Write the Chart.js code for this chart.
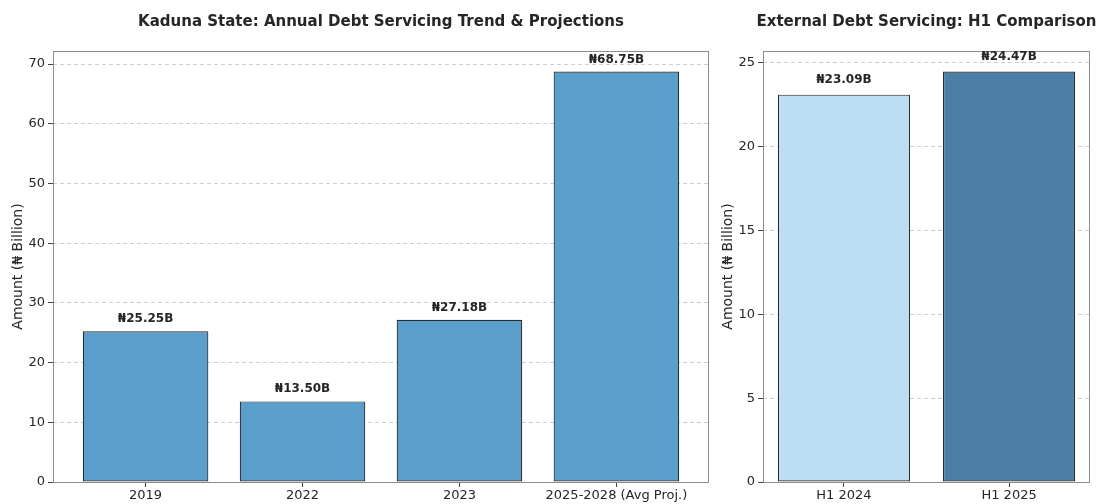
<!DOCTYPE html>
<html>
<head>
<meta charset="utf-8">
<script src="https://cdn.jsdelivr.net/npm/chart.js@4/dist/chart.umd.min.js"></script>
<style>
  html, body { margin: 0; padding: 0; background: #fff; }
  #wrap { position: relative; width: 1101px; height: 504px; overflow: hidden; }
  #wrap canvas { position: absolute; top: 0; }
</style>
</head>
<body>
<div id="wrap">
  <canvas id="chart-annual" width="710" height="504" style="left:0"></canvas>
  <canvas id="chart-h1" width="391" height="504" style="left:710px"></canvas>
</div>
<script>
const annualLabels = ['2019', '2022', '2023', '2025-2028 (Avg Proj.)'];
const annualValues = [25.25, 13.50, 27.18, 68.75];
const annualColors = ['#5a9ecb', '#5a9ecb', '#5a9ecb', '#5a9ecb'];

const h1Labels = ['H1 2024', 'H1 2025'];
const h1Values = [23.09, 24.47];
const h1Colors = ['#bddef2', '#4b7fa6'];

const FONT = "'DejaVu Sans', sans-serif";
const TEXT = '#262626';

// frame, title and value labels on top of the library's drawing
const decor = {
  id: 'decor',
  afterDraw(chart, args, opts) {
    const { ctx, chartArea: a, scales } = chart;
    ctx.save();
    ctx.strokeStyle = '#8c8c8c';
    ctx.lineWidth = 1;
    ctx.strokeRect(a.left + 0.5, a.top + 0.5, a.right - a.left - 1, a.bottom - a.top);

    ctx.fillStyle = TEXT;
    ctx.textAlign = 'center';
    ctx.textBaseline = 'middle';
    ctx.font = `bold 15px ${FONT}`;
    ctx.fillText(opts.title, (a.left + a.right) / 2, 22);

    ctx.font = `bold 12px ${FONT}`;
    ctx.textBaseline = 'alphabetic';
    opts.values.forEach((v, i) => {
      const x = scales.x.getPixelForValue(i);
      const y = scales.y.getPixelForValue(v + opts.labelGap) - 3;
      ctx.fillText('₦' + v.toFixed(2) + 'B', x, y);
    });
    ctx.restore();
  }
};

function makeChart(id, labels, values, colors, title, yStep, labelGap, rightPad) {
  const n = labels.length;
  const margin = 0.05 * (n - 1 + 0.8);
  const yMax = Math.max(...values) * 1.05;
  return new Chart(document.getElementById(id), {
    type: 'bar',
    data: {
      datasets: [{
        data: values.map((v, i) => ({ x: i, y: v })),
        backgroundColor: colors,
        borderColor: '#2a2a2a',
        borderWidth: 1.2,
        borderSkipped: false,
        barPercentage: 0.8,
        categoryPercentage: 1
      }]
    },
    options: {
      responsive: false,
      animation: false,
      layout: { padding: { top: 51, right: rightPad, left: 0, bottom: 0 } },
      plugins: {
        legend: { display: false },
        tooltip: { enabled: false },
        decor: { title, values, labelGap }
      },
      scales: {
        x: {
          type: 'linear',
          offset: false,
          min: -0.4 - margin,
          max: n - 1 + 0.4 + margin,
          border: { display: false },
          grid: { offset: false, drawOnChartArea: false, color: '#444', tickColor: '#444', tickLength: 5 },
          afterBuildTicks: s => { s.ticks = labels.map((_, i) => ({ value: i })); },
          afterFit: s => { s.height = 22; },
          ticks: {
            color: TEXT, padding: 1, maxRotation: 0, autoSkip: false,
            font: { family: FONT, size: 13 },
            callback: v => labels[v]
          }
        },
        y: {
          min: 0,
          max: yMax,
          border: { display: false, dash: [4, 3] },
          grid: { color: '#cfcfcf', tickColor: '#444', tickLength: 5, tickBorderDash: [] },
          afterBuildTicks: s => { s.ticks = s.ticks.filter(t => t.value % yStep === 0); },
          afterFit: s => { s.width = 53; },
          ticks: {
            stepSize: yStep, includeBounds: false, color: TEXT, padding: 3,
            font: { family: FONT, size: 13 }
          },
          title: {
            display: true, text: 'Amount (₦ Billion)', color: TEXT,
            font: { family: FONT, size: 14 },
            padding: { top: 10, bottom: 0 }
          }
        }
      }
    },
    plugins: [decor]
  });
}

makeChart('chart-annual', annualLabels, annualValues, annualColors,
  'Kaduna State: Annual Debt Servicing Trend & Projections', 10, 1, 1);
makeChart('chart-h1', h1Labels, h1Values, h1Colors,
  'External Debt Servicing: H1 Comparison', 5, 0.5, 11);
</script>
</body>
</html>
